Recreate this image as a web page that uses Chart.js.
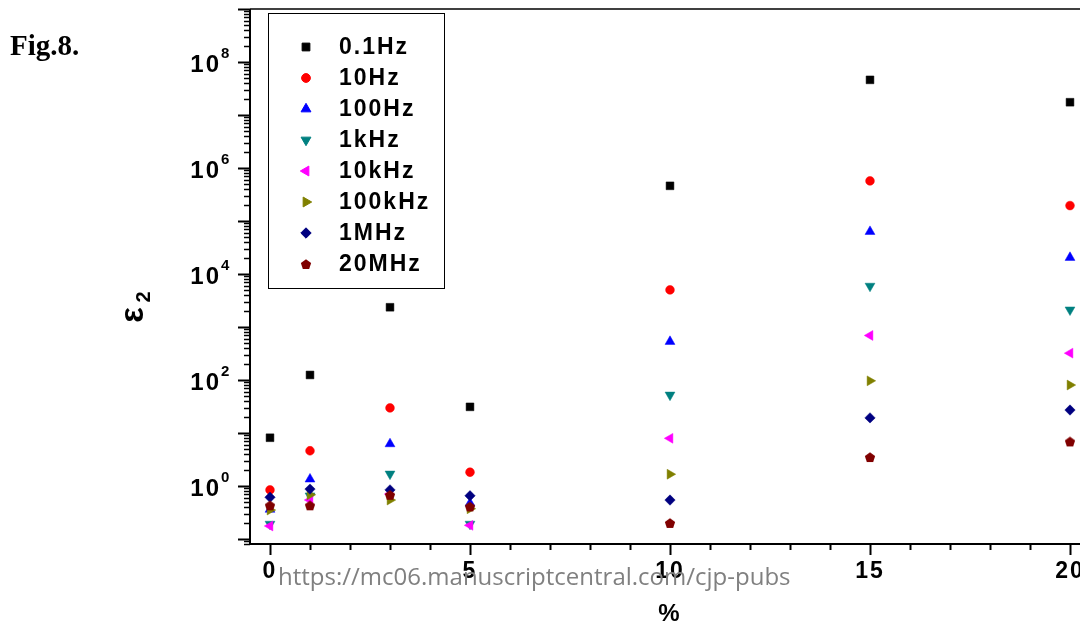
<!DOCTYPE html>
<html>
<head>
<meta charset="utf-8">
<script src="https://cdn.jsdelivr.net/npm/chart.js@4/dist/chart.umd.min.js"></script>
<style>
  html, body { margin: 0; padding: 0; background: #fff; overflow: hidden; }
  #wrap { position: absolute; left: 0; top: 0; width: 1100px; height: 630px; }
</style>
</head>
<body>
<div id="wrap"><canvas id="result_chart"></canvas></div>
<script>
// filler content (%)
const percents = [0, 1, 3, 5, 10, 15, 20];
const freqLabels = ['0.1Hz', '10Hz', '100Hz', '1kHz', '10kHz', '100kHz', '1MHz', '20MHz'];

// epsilon_2, one array per frequency
const eps_0_1Hz  = [8.1, 124, 2350, 31, 4.6e5, 4.6e7, 1.74e7];
const eps_10Hz   = [0.84, 4.6, 29.6, 1.81, 5000, 5.7e5, 1.95e5];
const eps_100Hz  = [0.36, 1.34, 6.2, 0.47, 530, 6.3e4, 2.04e4];
const eps_1kHz   = [0.19, 0.65, 1.68, 0.19, 52, 5900, 2100];
const eps_10kHz  = [0.175, 0.54, 0.70, 0.18, 7.9, 690, 320];
const eps_100kHz = [0.35, 0.68, 0.54, 0.37, 1.66, 96, 80];
const eps_1MHz   = [0.61, 0.87, 0.84, 0.65, 0.54, 19.2, 27];
const eps_20MHz  = [0.43, 0.43, 0.68, 0.41, 0.20, 3.5, 6.9];

const xTickValues = [0, 5, 10, 15, 20];
const yTickExponents = [0, 2, 4, 6, 8];

const SANS = '"Liberation Sans", Arial, sans-serif';

// pentagon marker, chart.js has no built in one
const pentagon = (() => {
    const c = document.createElement('canvas');
    c.width = 12; c.height = 12;
    const g = c.getContext('2d');
    g.fillStyle = '#800000';
    g.beginPath();
    for (let k = 0; k < 5; k++) {
        const a = -Math.PI / 2 + k * 2 * Math.PI / 5;
        const px = 6 + 5.4 * Math.cos(a), py = 6.6 + 5.4 * Math.sin(a);
        k ? g.lineTo(px, py) : g.moveTo(px, py);
    }
    g.closePath();
    g.fill();
    return c;
})();

const markers = [
    {style: 'rect',     radius: 5.5, rotation: 0,   color: '#000000'},
    {style: 'circle',   radius: 4.4, rotation: 0,   color: '#ff0000'},
    {style: 'triangle', radius: 5.7, rotation: 0,   color: '#0000ff'},
    {style: 'triangle', radius: 5.7, rotation: 180, color: '#008080'},
    {style: 'triangle', radius: 5.7, rotation: -90, color: '#ff00ff'},
    {style: 'triangle', radius: 5.7, rotation: 90,  color: '#808000'},
    {style: 'rectRot',  radius: 5.2, rotation: 0,   color: '#000080'},
    {style: pentagon,   radius: 5,   rotation: 0,   color: '#800000'}
];

const series = [eps_0_1Hz, eps_10Hz, eps_100Hz, eps_1kHz, eps_10kHz, eps_100kHz, eps_1MHz, eps_20MHz];

const datasets = series.map((vals, i) => ({
    label: freqLabels[i],
    data: percents.map((p, k) => ({x: p, y: vals[k]})),
    pointStyle: markers[i].style,
    pointRadius: markers[i].radius,
    pointRotation: markers[i].rotation,
    backgroundColor: markers[i].color,
    borderColor: markers[i].color,
    pointBorderWidth: 0.5,
    order: series.length - i   // later series on top, like the original
}));

const figDecor = {
    id: 'figDecor',
    beforeDraw(chart) {
        chart.ctx.letterSpacing = '2px';
    },
    afterDraw(chart) {
        const {ctx, chartArea: a, scales: {x, y}} = chart;
        ctx.save();
        ctx.strokeStyle = '#000';
        ctx.fillStyle = '#000';

        // frame
        ctx.lineWidth = 2;
        ctx.beginPath();
        ctx.moveTo(a.left, a.top); ctx.lineTo(a.left, a.bottom + 1);
        ctx.moveTo(a.left - 1, a.bottom); ctx.lineTo(a.right, a.bottom);
        ctx.stroke();
        ctx.lineWidth = 1.5;
        ctx.beginPath();
        ctx.moveTo(a.left, a.top); ctx.lineTo(a.right, a.top);
        ctx.stroke();

        // y ticks (log, minor 2..9)
        for (let n = -2; n <= 9; n++) {
            for (let j = 1; j <= 9; j++) {
                const v = j * Math.pow(10, n);
                if (v < y.min || v > y.max) continue;
                const py = Math.round(y.getPixelForValue(v)) + 0.5;
                ctx.lineWidth = j === 1 ? 2 : 1.5;
                ctx.beginPath();
                ctx.moveTo(a.left - (j === 1 ? 12 : 6), py);
                ctx.lineTo(a.left, py);
                ctx.stroke();
            }
        }
        // x ticks
        for (let v = 0; v <= 20; v++) {
            const px = Math.round(x.getPixelForValue(v)) + 0.5;
            ctx.lineWidth = 2;
            ctx.beginPath();
            ctx.moveTo(px, a.bottom);
            ctx.lineTo(px, a.bottom + (v % 5 === 0 ? 11 : 6));
            ctx.stroke();
        }

        // y tick labels with superscripts
        ctx.letterSpacing = '2px';
        yTickExponents.forEach(e => {
            const py = y.getPixelForValue(Math.pow(10, e));
            ctx.font = `bold 24px ${SANS}`;
            ctx.textAlign = 'right';
            ctx.textBaseline = 'alphabetic';
            ctx.fillText('10', 221, py + 10);
            ctx.font = `bold 15px ${SANS}`;
            ctx.textAlign = 'left';
            ctx.fillText(String(e), 221, py - 4);
        });

        // y title: epsilon_2
        ctx.save();
        ctx.translate(137, 300);
        ctx.rotate(-Math.PI / 2);
        ctx.letterSpacing = '0px';
        ctx.textAlign = 'center';
        ctx.textBaseline = 'middle';
        ctx.font = `bold 33px ${SANS}`;
        ctx.fillText('ε', -15, -3);
        ctx.font = `bold 20px ${SANS}`;
        ctx.fillText('2', 3, 7);
        ctx.restore();

        // legend
        ctx.lineWidth = 1;
        ctx.strokeRect(268.5, 13.5, 176, 275);
        chart.data.datasets.forEach((ds, i) => {
            const cy = 47 + i * 31;
            ctx.fillStyle = markers[i].color;
            ctx.strokeStyle = markers[i].color;
            Chart.helpers.drawPoint(ctx, {
                pointStyle: markers[i].style,
                radius: markers[i].radius,
                rotation: markers[i].rotation,
                borderWidth: 0.5
            }, 306, cy);
            ctx.fillStyle = '#000';
            ctx.font = `bold 23px ${SANS}`;
            ctx.textAlign = 'left';
            ctx.textBaseline = 'alphabetic';
            ctx.fillText(ds.label, 339, 54 + i * 31);
        });

        // figure number
        ctx.letterSpacing = '0px';
        ctx.fillStyle = '#000';
        ctx.font = 'bold 29px "Liberation Serif", "Times New Roman", serif';
        ctx.fillText('Fig.8.', 10, 55);

        // watermark
        ctx.fillStyle = '#808080';
        ctx.font = '24px "Open Sans", sans-serif';
        ctx.fillText('https://mc06.manuscriptcentral.com/cjp-pubs', 278, 585);
        ctx.restore();
    }
};

const config = {
    type: 'scatter',
    data: {datasets: datasets},
    options: {
        responsive: true,
        maintainAspectRatio: false,
        animation: false,
        layout: {padding: {left: 0, top: 9, right: 10, bottom: 0}},
        plugins: {
            legend: {display: false},
            tooltip: {enabled: false}
        },
        scales: {
            x: {
                type: 'linear',
                min: -0.5,
                max: 20.5,
                grid: {display: false, drawTicks: false},
                border: {display: false},
                afterBuildTicks: (axis) => {
                    axis.ticks = xTickValues.map(v => ({value: v}));
                },
                afterFit: (axis) => { axis.height = 86; },
                ticks: {
                    color: '#000',
                    padding: 14,
                    maxRotation: 0,
                    font: {family: SANS, size: 23, weight: 'bold'}
                },
                title: {
                    display: true,
                    text: '%',
                    color: '#000',
                    padding: {top: 0, bottom: 1},
                    font: {family: SANS, size: 24, weight: 'bold'}
                }
            },
            y: {
                type: 'logarithmic',
                min: 0.08,
                max: 1e9,
                grid: {display: false, drawTicks: false},
                border: {display: false},
                ticks: {display: false},
                afterFit: (axis) => { axis.width = 250; }
            }
        }
    },
    plugins: [figDecor]
};

new Chart(document.getElementById('result_chart'), config);
</script>
</body>
</html>
